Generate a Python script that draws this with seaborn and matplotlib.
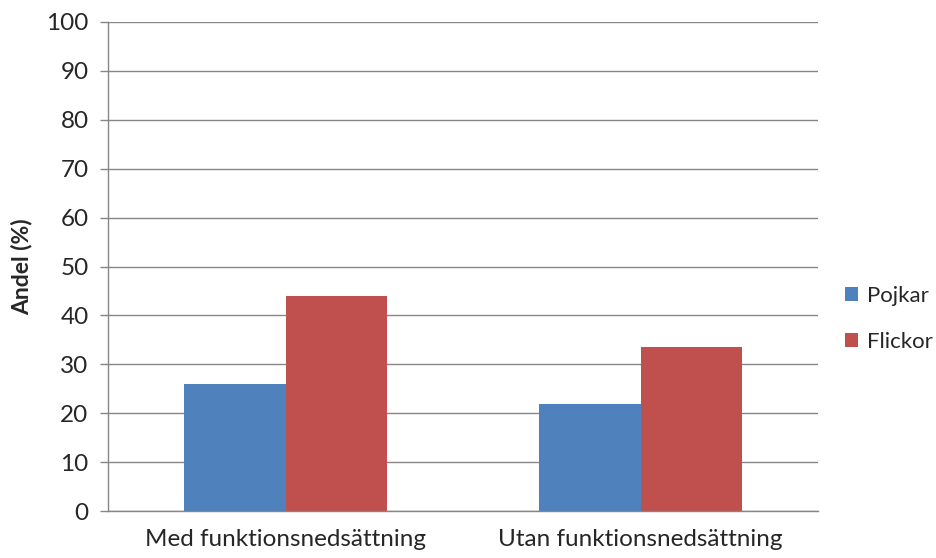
import pandas as pd
import matplotlib.pyplot as plt
import seaborn as sns

categories = ["Med funktionsnedsättning", "Utan funktionsnedsättning"]
pojkar = [26.0, 21.8]
flickor = [44.0, 33.6]
series = ["Pojkar", "Flickor"]

df = pd.DataFrame({
    "Grupp": categories * 2,
    "Kön": [series[0]] * 2 + [series[1]] * 2,
    "Andel": pojkar + flickor,
})

palette = {"Pojkar": "#4F81BD", "Flickor": "#C0504D"}

sns.set_style("white")
plt.rcParams["font.family"] = ["Lato", "DejaVu Sans"]

fig = plt.figure(figsize=(9.37, 5.58), dpi=100)
ax = fig.add_axes([0.1153, 0.0842, 0.7577, 0.8764])

sns.barplot(data=df, x="Grupp", y="Andel", hue="Kön", palette=palette,
            width=0.57, saturation=1, linewidth=0, ax=ax)

grid_c = "#868686"
fs = 17.5
ax.set_xlim(-0.5, 1.5)
ax.set_ylim(0, 100)
ax.set_yticks(range(0, 101, 10))
ax.yaxis.grid(True, color=grid_c, linewidth=1.0)
ax.set_axisbelow(True)

for side in ["top", "right"]:
    ax.spines[side].set_visible(False)
for side in ["left", "bottom"]:
    ax.spines[side].set_color(grid_c)
    ax.spines[side].set_linewidth(1.0)

# category boundary ticks on x axis
ax.set_xticks([-0.5, 0.5, 1.5], minor=True)
ax.tick_params(axis="x", which="major", length=0, pad=13, labelsize=fs)
ax.tick_params(axis="x", which="minor", length=6, color=grid_c, width=1)
ax.tick_params(axis="y", length=6, color=grid_c, width=1, labelsize=fs, pad=8)
ax.tick_params(axis="y", left=True)

ax.set_xlabel("")
ax.set_ylabel("Andel (%)", fontsize=16.5, fontweight="bold", labelpad=10)

handles, labels = ax.get_legend_handles_labels()
ax.legend(handles, labels, frameon=False, loc="center left",
          bbox_to_anchor=(1.038, 0.393), fontsize=16, handlelength=0.6,
          handleheight=0.6, handletextpad=0.4, labelspacing=1.15,
          borderpad=0, borderaxespad=0)

plt.savefig("out.png", dpi=100, facecolor="white")
